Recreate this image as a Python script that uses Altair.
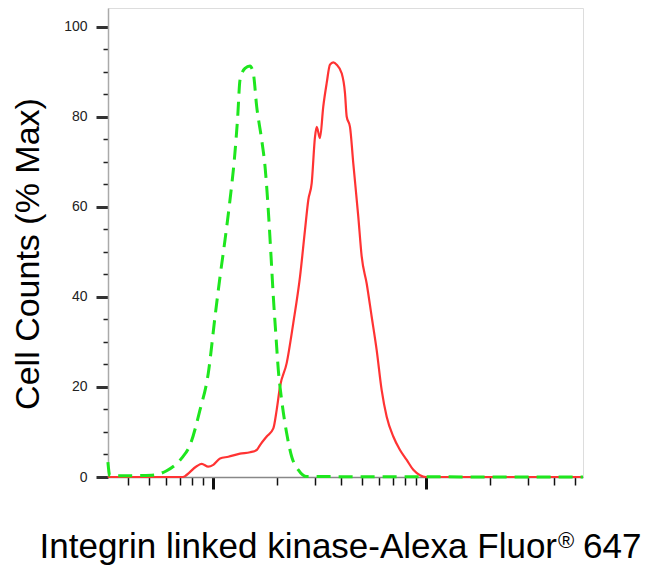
import altair as alt
import pandas as pd

# Fluorescence intensity (log scale) and % of max
green_x = [321, 328, 408, 515, 606, 713, 780, 869, 950, 1022, 1079, 1139, 1202, 1259,
           1306, 1339, 1413, 1492, 1546, 1604, 1693, 1755, 1818, 1873, 1920, 1976, 2026,
           2101, 2218, 2342, 2515, 2754, 54580]
green_y = [3.3, 0.3, 0.3, 0.4, 1.4, 4.2, 7.1, 14.9, 23.0, 35.6, 44.5, 52.7, 61.6, 70.4,
           80.0, 88.2, 90.8, 91.3, 89.7, 82.3, 74.9, 69.0, 59.3, 49.0, 40.0, 31.2, 23.8,
           17.1, 9.7, 4.5, 1.6, 0.1, 0.0]

red_x = [321, 725, 739, 838, 885, 950, 1003, 1079, 1180, 1339, 1492, 1604, 1663, 1787,
         1920, 1991, 2064, 2218, 2382, 2562, 2704, 2803, 2907, 3013, 3069, 3179, 3294,
         3418, 3542, 3671, 3809, 4020, 4166, 4243, 4397, 4557, 4811, 4990, 5267, 5560,
         5868, 6194, 6539, 7022, 7550, 8118, 8718, 9371, 10000, 54580]
red_y = [0.0, 0.0, 0.2, 2.4, 2.9, 2.3, 2.7, 4.1, 4.5, 5.2, 5.5, 6.0, 7.1, 9.0,
         10.8, 14.9, 20.1, 25.3, 34.2, 44.5, 54.9, 61.6, 65.3, 75.6, 77.8, 75.3, 82.3,
         87.5, 91.6, 92.1, 91.6, 89.7, 85.3, 80.1, 77.8, 69.7, 57.8, 49.0, 43.0, 35.6,
         28.2, 19.3, 13.4, 9.0, 6.0, 3.8, 1.6, 0.4, 0.0, 0.0]

x_major = [1000, 10000]
x_minor = [400, 500, 600, 700, 800, 900,
           2000, 3000, 4000, 5000, 6000, 7000, 8000, 9000,
           20000, 30000, 40000, 50000]
y_major = [0, 20, 40, 60, 80, 100]
y_minor = [5, 10, 15, 25, 30, 35, 45, 50, 55, 65, 70, 75, 85, 90, 95]

x_title_main = "Integrin linked kinase-Alexa Fluor"
x_title_reg = "\u00ae"
x_title_num = "647"
y_title = "Cell Counts (% Max)"

FONT = "Liberation Sans"

green_df = pd.DataFrame({"intensity": green_x, "pct": green_y})
red_df = pd.DataFrame({"intensity": red_x, "pct": red_y})

xscale = alt.Scale(type="log", domain=[321.4, 54600], nice=False)
yscale = alt.Scale(domain=[0, 104.2], nice=False, zero=True)

red = alt.Chart(red_df).mark_line(
    color="#ff3333", strokeWidth=2.2, interpolate="monotone"
).encode(
    x=alt.X("intensity:Q", scale=xscale,
            axis=alt.Axis(values=x_minor, labels=False, domain=False, grid=False,
                          ticks=True, tickSize=8, tickWidth=1.5, tickColor="#111",
                          title=None, orient="bottom")),
    y=alt.Y("pct:Q", scale=yscale,
            axis=alt.Axis(values=y_minor, labels=False, domain=False, grid=False,
                          ticks=True, tickSize=5, tickWidth=1.5, tickColor="#222",
                          title=None, orient="left")),
)

green = alt.Chart(green_df).mark_line(
    color="#1ee61e", strokeWidth=3, strokeDash=[14, 8], interpolate="monotone"
).encode(
    x=alt.X("intensity:Q", scale=xscale,
            axis=alt.Axis(values=x_major, labels=False, grid=False,
                          ticks=True, tickSize=12, tickWidth=3, tickColor="#111",
                          domain=True, domainColor="#888888", domainWidth=1.5,
                          title=None, orient="bottom")),
    y=alt.Y("pct:Q", scale=yscale,
            axis=alt.Axis(values=y_major, grid=False, ticks=True, tickSize=12,
                          tickWidth=3, tickColor="#333", domain=True,
                          domainColor="#aaaaaa", domainWidth=1.5,
                          labelFont=FONT, labelFontSize=14, labelColor="#222",
                          labelPadding=9,
                          title=y_title, titleFont=FONT, titleFontSize=34,
                          titleFontWeight="normal", titleColor="black",
                          titleX=-80, titleY=245.5, titleAngle=270,
                          titleAlign="center", titleBaseline="middle",
                          orient="left")),
)

one = pd.DataFrame({"k": [0]})
t_main = alt.Chart(one).mark_text(
    text=x_title_main, align="right", baseline="alphabetic",
    font=FONT, fontSize=35, color="black"
).encode(x=alt.value(449), y=alt.value(550))
t_reg = alt.Chart(one).mark_text(
    text=x_title_reg, align="left", baseline="alphabetic",
    font=FONT, fontSize=22, color="black"
).encode(x=alt.value(450), y=alt.value(540))
t_num = alt.Chart(one).mark_text(
    text=x_title_num, align="left", baseline="alphabetic",
    font=FONT, fontSize=35, color="black"
).encode(x=alt.value(475), y=alt.value(550))

chart = alt.layer(red, green, t_main, t_reg, t_num).resolve_axis(
    x="independent", y="independent"
).properties(
    width=475, height=469,
    autosize=alt.AutoSizeParams(type="none"),
    padding={"left": 100, "top": 0, "right": 70, "bottom": 90},
).configure_view(
    stroke="#aaaaaa", strokeWidth=1.5
).configure(background="white")

chart.save("out.html", embed_options={"renderer": "svg", "actions": False})
